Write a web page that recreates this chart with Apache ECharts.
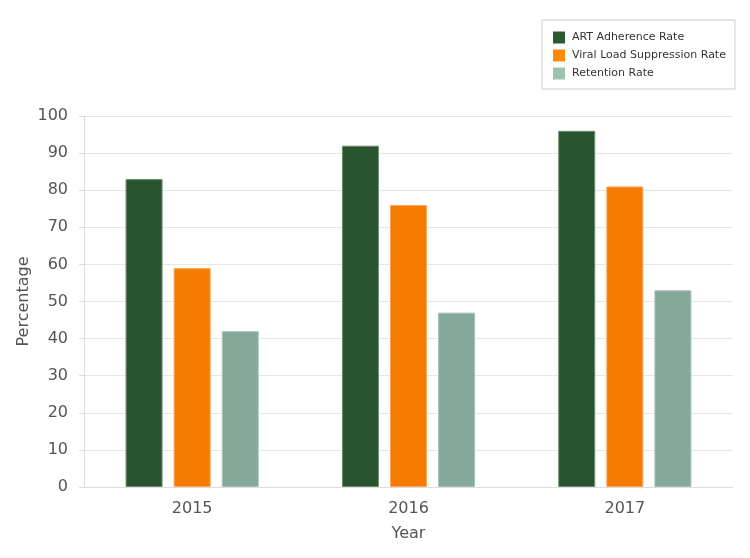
<!DOCTYPE html>
<html>
<head>
<meta charset="utf-8">
<script src="https://cdn.jsdelivr.net/npm/echarts@6/dist/echarts.min.js"></script>
<style>
html,body{margin:0;padding:0;background:#fff;}
#chart{width:750px;height:558px;}
</style>
</head>
<body>
<div id="chart"></div>
<script>
const categories = ['2015', '2016', '2017'];
const artAdherence = [83, 92, 96];
const viralSuppression = [59, 76, 81];
const retention = [42, 47, 53];
const seriesNames = ['ART Adherence Rate', 'Viral Load Suppression Rate', 'Retention Rate'];

const chart = echarts.init(document.getElementById('chart'));
const font = "'DejaVu Sans', Verdana, sans-serif";
chart.setOption({
  backgroundColor: '#ffffff',
  textStyle: { fontFamily: font },
  legend: {
    orient: 'vertical',
    left: 542,
    top: 20,
    padding: [11, 9, 9, 11],
    borderColor: '#cccccc',
    borderWidth: 1,
    itemWidth: 12,
    itemHeight: 12,
    itemGap: 5,
    icon: 'rect',
    itemStyle: { borderWidth: 0 },
    textStyle: { fontFamily: font, fontSize: 11, color: '#333', lineHeight: 13, padding: [0, 0, 0, 2] },
    data: [
      { name: seriesNames[0], itemStyle: { color: '#2b5a31', borderWidth: 0 } },
      { name: seriesNames[1], itemStyle: { color: '#ff8a0a', borderWidth: 0 } },
      { name: seriesNames[2], itemStyle: { color: '#9cc3ab', borderWidth: 0 } }
    ]
  },
  grid: { left: 84, right: 17, top: 116, bottom: 71, containLabel: false },
  xAxis: {
    type: 'category',
    data: categories,
    name: 'Year',
    nameLocation: 'middle',
    nameGap: 39,
    nameMoveOverlap: false,
    nameTextStyle: { fontFamily: font, fontSize: 16, color: '#555' },
    axisLine: { show: true, lineStyle: { color: '#dddddd' } },
    axisTick: { show: false },
    axisLabel: { fontFamily: font, fontSize: 16, color: '#555', margin: 14 }
  },
  yAxis: {
    type: 'value',
    min: 0,
    max: 100,
    interval: 10,
    name: 'Percentage',
    nameLocation: 'middle',
    nameGap: 52,
    nameMoveOverlap: false,
    nameTextStyle: { fontFamily: font, fontSize: 16, color: '#555' },
    axisLine: { show: true, lineStyle: { color: '#dddddd' } },
    axisTick: { show: true, length: 5, lineStyle: { color: '#dddddd' } },
    axisLabel: { fontFamily: font, fontSize: 16, color: '#555', margin: 16 },
    splitLine: { show: true, lineStyle: { color: '#e6e6e6' } }
  },
  series: [
    {
      name: seriesNames[0], type: 'bar', data: artAdherence,
      barWidth: 37, barGap: '30%',
      itemStyle: { color: '#2a5430', borderColor: '#6a8f6d', borderWidth: 1 }
    },
    {
      name: seriesNames[1], type: 'bar', data: viralSuppression,
      barWidth: 37, barGap: '30%',
      itemStyle: { color: '#f77b00', borderColor: '#f9a55a', borderWidth: 1 }
    },
    {
      name: seriesNames[2], type: 'bar', data: retention,
      barWidth: 37, barGap: '30%',
      itemStyle: { color: '#84a99a', borderColor: '#a6c2b6', borderWidth: 1 }
    }
  ]
});
</script>
</body>
</html>
